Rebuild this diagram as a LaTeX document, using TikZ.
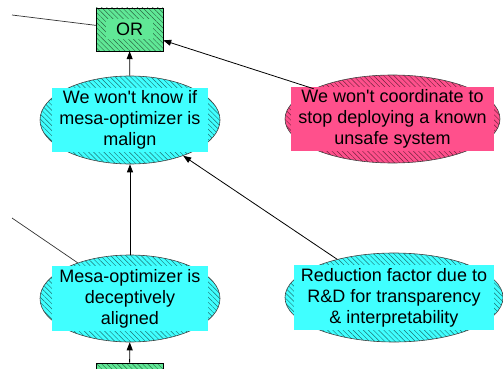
\documentclass[tikz,border=0pt]{standalone}
\usepackage{fontspec}
\setmainfont{Liberation Sans}
\usetikzlibrary{shapes.geometric, arrows.meta, positioning, patterns.meta}
\definecolor{nodecyan}{RGB}{64,255,255}
\definecolor{nodepink}{RGB}{255,80,140}
\definecolor{nodegreen}{RGB}{96,232,150}

\begin{document}
\begin{tikzpicture}[
    x=1pt, y=-1pt,
    hatch/.style={pattern={Lines[angle=-45, distance=3.6pt, line width=0.45pt]}, pattern color=#1!45!black, preaction={fill=#1}},
    event/.style={ellipse, draw=black!75, line width=0.6pt, minimum width=180pt, minimum height=88pt, hatch=#1},
    gate/.style={rectangle, draw=black, line width=0.8pt, minimum width=67pt, minimum height=43pt, hatch=nodegreen},
    txt/.style={fill=#1, align=center, inner xsep=7pt, inner ysep=2.7pt, font=\fontsize{18}{21}\selectfont},
    arr/.style={-{Triangle[length=8pt,width=6pt]}, line width=0.8pt},
    link/.style={line width=0.7pt, black!80},
  ]
  \useasboundingbox (0,0) rectangle (503,369);
  % gates
  \node[gate] (orgate) at (129.5,29.5) {};
  \node[txt=nodegreen, minimum width=47pt, minimum height=20pt] (torgate) at (orgate) {OR};
  \node[gate] (andgate) at (129.5,384.5) {};
  % events
  \node[event=nodecyan] (know) at (130,120) {};
  \node[txt=nodecyan] (tknow) at (know) {We won\textquotesingle t know if\\mesa-optimizer is\\malign};
  \node[event=nodepink, minimum width=215pt] (coord) at (392.5,119) {};
  \node[txt=nodepink] (tcoord) at (coord) {We won\textquotesingle t coordinate to\\stop deploying a known\\unsafe system};
  \node[event=nodecyan, minimum height=87pt] (decep) at (130,298.5) {};
  \node[txt=nodecyan] (tdecep) at (decep) {Mesa-optimizer is\\deceptively\\aligned};
  \node[event=nodecyan, minimum width=218pt, minimum height=89pt] (redu) at (394,297.5) {};
  \node[txt=nodecyan] (tredu) at (redu) {Reduction factor due to\\R\&D for transparency\\\& interpretability};
  % links to parents outside the view
  \coordinate (up1) at (12,15);
  \coordinate (up2) at (12,218);
  \draw[link] (orgate) -- (up1);
  \draw[link] (decep) -- (up2);
  % arrows
  \draw[arr] (know) -- (orgate);
  \draw[arr] (coord.159) -- (orgate);
  \draw[arr] (decep) -- (know);
  \draw[arr] (redu) -- (know);
  \draw[arr] (andgate) -- (decep);
\end{tikzpicture}
\end{document}
